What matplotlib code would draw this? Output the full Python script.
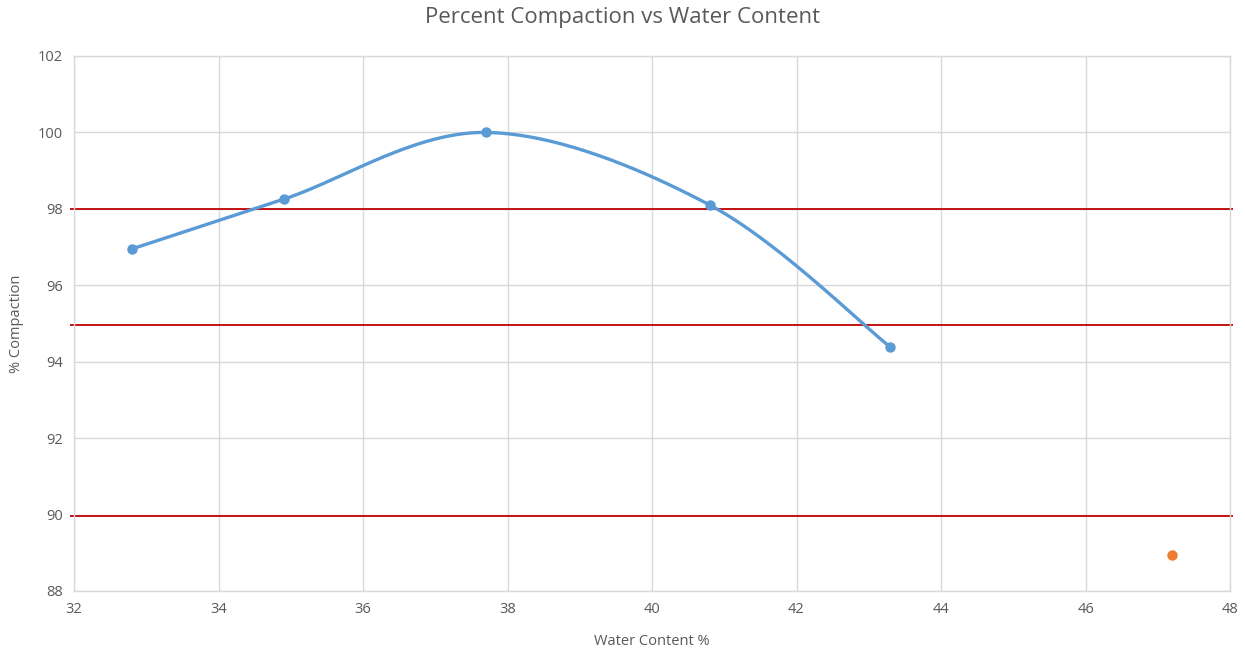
import numpy as np
import matplotlib
matplotlib.use("Agg")
import matplotlib.pyplot as plt

# Compaction test results
water_content = [32.8, 34.9, 37.7, 40.8, 43.3]
compaction = [96.95, 98.25, 100.0, 98.1, 94.38]

# Separate field sample
field_water = [47.2]
field_compaction = [88.95]

# Specification limit lines (drawn across the full plot width)
limits = [98.0, 94.95, 89.97]
limit_x = [31.94, 48.04]

x_ticks = [32, 34, 36, 38, 40, 42, 44, 46, 48]
y_ticks = [88, 90, 92, 94, 96, 98, 100, 102]

plt.rcParams['font.family'] = ['Open Sans', 'DejaVu Sans']

W, H, DPI = 1245, 650, 100
fig = plt.figure(figsize=(W / DPI, H / DPI), dpi=DPI)
ax_l, ax_r, ax_t, ax_b = 74, 1230, 56, 591
ax = fig.add_axes([ax_l / W, 1 - ax_b / H, (ax_r - ax_l) / W, (ax_b - ax_t) / H])

xlim = (32, 48)
ylim = (88, 102)
ax.set_xlim(*xlim)
ax.set_ylim(*ylim)

# Smoothed line (cardinal Bezier) computed in screen-proportional units
sx = (ax_r - ax_l) / (xlim[1] - xlim[0])
sy = (ax_b - ax_t) / (ylim[1] - ylim[0])
P = np.column_stack([(np.array(water_content) - xlim[0]) * sx,
                     (np.array(compaction) - ylim[0]) * sy])
n = len(P)
curve = []
t = np.linspace(0, 1, 60)[:, None]
for i in range(n - 1):
    p_prev = P[i - 1] if i > 0 else P[i]
    p_next2 = P[i + 2] if i + 2 < n else P[i + 1]
    c1 = P[i] + (P[i + 1] - p_prev) / 6
    c2 = P[i + 1] - (p_next2 - P[i]) / 6
    seg = ((1 - t) ** 3) * P[i] + 3 * ((1 - t) ** 2) * t * c1 \
        + 3 * (1 - t) * t ** 2 * c2 + t ** 3 * P[i + 1]
    curve.append(seg if i == 0 else seg[1:])
curve = np.vstack(curve)
cx = curve[:, 0] / sx + xlim[0]
cy = curve[:, 1] / sy + ylim[0]

for v in limits:
    ax.plot(limit_x, [v, v], color='#c00000', lw=1.3, zorder=2,
            clip_on=False, solid_capstyle='butt')

ax.plot(cx, cy, color='#5b9bd5', lw=2.4, solid_capstyle='round', zorder=3)
ax.plot(water_content, compaction, 'o', color='#5b9bd5', ms=6.5, zorder=4)
ax.plot(field_water, field_compaction, 'o', color='#ed7d31', ms=6.5, zorder=4)

ax.set_xticks(x_ticks)
ax.set_yticks(y_ticks)
ax.grid(True, color='#d9d9d9', lw=1)
ax.set_axisbelow(True)
for s in ax.spines.values():
    s.set_color('#d9d9d9')
    s.set_linewidth(1)
ax.tick_params(length=0, labelsize=10.5, colors='#595959', pad=8)

ax.set_xlabel('Water Content %', fontsize=10.5, color='#595959', labelpad=12)
ax.set_ylabel('% Compaction', fontsize=10.5, color='#595959', labelpad=10)
fig.suptitle('Percent Compaction vs Water Content', fontsize=16,
             color='#595959', y=1 - 18 / H, va='center')

fig.savefig('out.png', dpi=DPI, facecolor='white')
